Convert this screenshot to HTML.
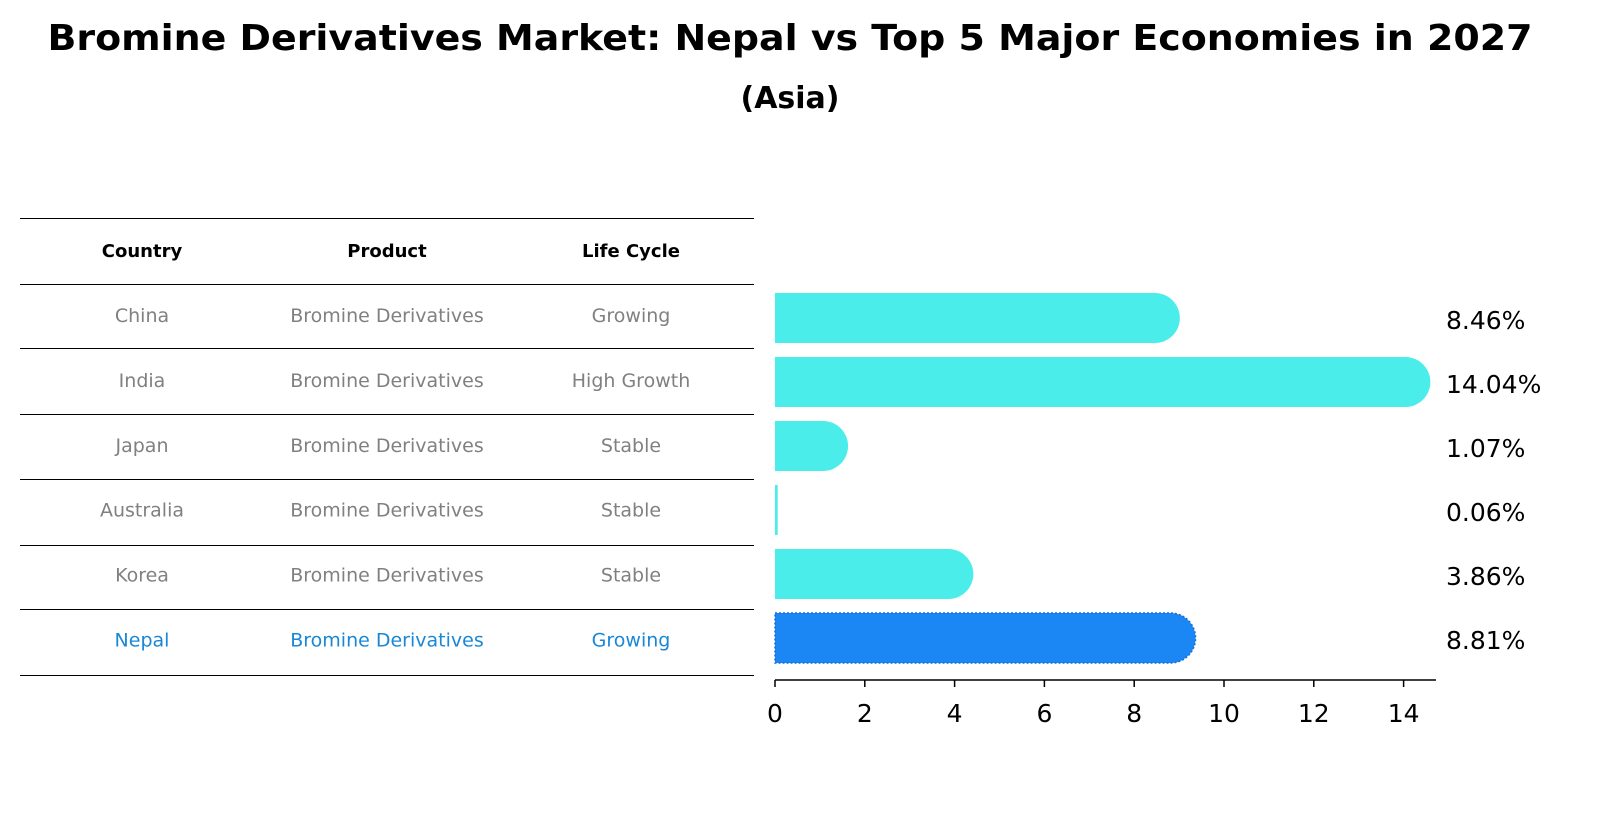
<!DOCTYPE html>
<html><head><meta charset="utf-8"><style>
body{margin:0;background:#fff;font-family:"Liberation Sans","DejaVu Sans",sans-serif;}
svg text{font-family:"DejaVu Sans","Liberation Sans",sans-serif;}
</style></head><body>
<svg width="1604" height="823" xmlns="http://www.w3.org/2000/svg">
<text x="790" y="50" text-anchor="middle" font-size="36" font-weight="bold" textLength="1485" lengthAdjust="spacingAndGlyphs">Bromine Derivatives Market: Nepal vs Top 5 Major Economies in 2027</text>
<text x="790" y="108" text-anchor="middle" font-size="30" font-weight="bold">(Asia)</text>
<g id="table"></g>
<g id="bars"></g>
</svg>
<script>
const countries=["China","India","Japan","Australia","Korea","Nepal"];
const products=["Bromine Derivatives","Bromine Derivatives","Bromine Derivatives","Bromine Derivatives","Bromine Derivatives","Bromine Derivatives"];
const lifecycles=["Growing","High Growth","Stable","Stable","Stable","Growing"];
const values=[8.46,14.04,1.07,0.06,3.86,8.81];
const ticks=[0,2,4,6,8,10,12,14];
const NS="http://www.w3.org/2000/svg";
function mk(tag,attrs,parent,txt){const e=document.createElementNS(NS,tag);for(const k in attrs)e.setAttribute(k,attrs[k]);if(txt!==undefined)e.textContent=txt;parent.appendChild(e);return e;}
const tbl=document.getElementById('table');
const lineYs=[218,284,348,414,479,545,609,675];
lineYs.forEach(y=>{const l=mk('line',{x1:20,x2:754,y1:y+0.5,y2:y+0.5,stroke:'#000','stroke-width':1},tbl);

});
const colX=[142,387,631];
["Country","Product","Life Cycle"].forEach((h,i)=>{const t=mk('text',{x:colX[i],y:257,'text-anchor':'middle','font-size':18,'font-weight':'bold'},tbl,h);

});
const rowY=i=>322+i*64.9;
countries.forEach((c,i)=>{const col=c==="Nepal"?'#1a87d6':'#808080';
[c,products[i],lifecycles[i]].forEach((v,j)=>{const t=mk('text',{x:colX[j],y:rowY(i),'text-anchor':'middle','font-size':19,fill:col},tbl,v);

});});
const bg=document.getElementById('bars');
const x0=775,ppu=44.9;
const xs=v=>x0+v*ppu;
const barC=i=>318+i*64;
const bh=50;
values.forEach((v,i)=>{const cy=barC(i);const xe=xs(v);const r=bh/2;
const nepal=countries[i]==="Nepal";
const col=nepal?'#1a87f5':'#4aedea';
const w=xe-x0;
let d;
if(v<0.3){d=`M${x0},${cy-r}h${Math.max(w,2.5)}v${bh}h${-Math.max(w,2.5)}z`;}
else{d=`M${x0},${cy-r}H${xe}A${r},${r} 0 0 1 ${xe},${cy+r}H${x0}Z`;}
const p=mk('path',{d:d,fill:col},bg);
if(nepal){p.setAttribute('stroke','#1a6fd0');p.setAttribute('stroke-dasharray','2,2');p.setAttribute('stroke-width','1.5');}


const t=mk('text',{x:1446,y:cy+11,'font-size':25},bg,v.toFixed(2)+'%');

});
const ax=mk('line',{x1:x0,x2:1436,y1:680,y2:680,stroke:'#000','stroke-width':1.5},bg);


ticks.forEach(v=>{const tk=mk('line',{x1:xs(v),x2:xs(v),y1:680,y2:687,stroke:'#000','stroke-width':1.5},bg);


const t=mk('text',{x:xs(v),y:722,'text-anchor':'middle','font-size':25},bg,String(v));

});
</script>
</body></html>
